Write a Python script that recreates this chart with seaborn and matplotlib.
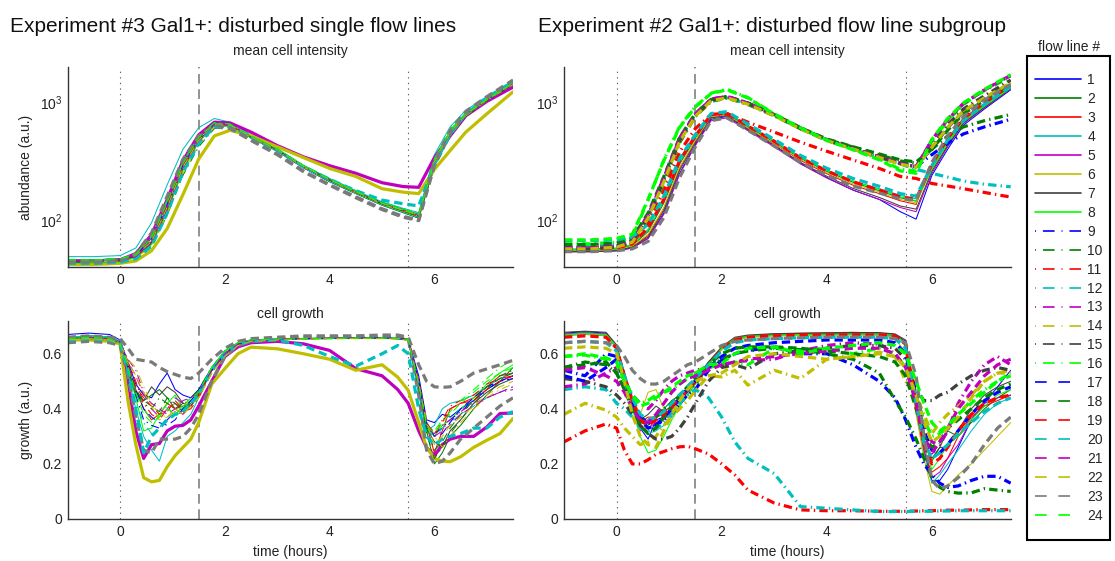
import matplotlib
matplotlib.use("Agg")
import matplotlib.pyplot as plt
from matplotlib.lines import Line2D
from matplotlib.patches import Rectangle
from matplotlib.ticker import NullLocator
import seaborn as sns

# ---------------- time grids (hours) ----------------
T_ABUND = [-1, -0.5, 0, 0.3, 0.6, 0.9, 1.2, 1.5, 1.8, 2.1, 2.5, 3, 3.5, 4, 4.5, 5, 5.4, 5.7, 6.0, 6.3, 6.6, 7.0, 7.5]
T_GROWTH = [-1, -0.6, -0.2, 0, 0.15, 0.3, 0.45, 0.6, 0.75, 0.9, 1.05, 1.2, 1.35, 1.5, 1.75, 2.0, 2.25, 2.5,
            3.0, 3.5, 4.0, 4.5, 5.0, 5.3, 5.5, 5.7, 5.85, 6.0, 6.15, 6.3, 6.5, 6.75, 7.0, 7.25, 7.5]

FLOW_LINES = [str(i) for i in range(1, 25)]

# ---------------- Experiment #3: mean cell intensity ----------------
e3_abund_01 = [44,44,45,49,64,120,270,470,640,630,500,385,278,212,168,134,116,104,290,530,770,1040,1420]
e3_abund_02 = [46,46,47,51,70,140,300,500,660,650,515,400,290,224,176,141,124,112,320,570,800,1060,1460]
e3_abund_03 = [45,45,46,50,66,128,280,475,650,645,512,396,286,220,173,138,120,108,305,555,790,1050,1440]
e3_abund_04 = [49,49,50,58,95,200,400,610,730,680,530,405,292,226,178,143,126,116,360,620,860,1120,1520]
e3_abund_05 = [45,45,46,52,75,150,320,530,680,670,560,430,345,290,250,208,193,190,340,520,770,1020,1350]
e3_abund_06 = [42,42,43,45,55,85,165,330,520,580,520,420,340,275,235,185,173,168,270,390,560,800,1230]
e3_abund_07 = [44,44,45,49,63,122,272,468,640,632,505,390,282,216,170,136,118,106,300,540,780,1045,1430]
e3_abund_08 = [43,43,44,48,62,118,265,462,632,628,500,388,280,214,169,135,117,105,295,535,775,1048,1440]
e3_abund_09 = [46,46,47,51,68,135,290,488,655,645,512,398,288,222,175,140,123,111,315,560,795,1058,1455]
e3_abund_10 = [45,45,46,49,60,110,240,420,600,625,505,392,284,218,172,137,120,109,280,510,760,1030,1410]
e3_abund_11 = [44,44,45,50,65,125,278,472,645,640,508,394,285,219,172,138,120,108,308,552,790,1052,1445]
e3_abund_12 = [45,45,46,52,72,145,310,510,670,655,518,402,292,225,178,142,126,114,330,580,810,1070,1470]
e3_abund_13 = [44,44,45,50,66,130,284,478,648,640,510,395,286,220,173,138,121,109,310,555,792,1054,1448]
e3_abund_14 = [44,44,45,48,60,112,250,440,615,630,506,393,284,218,172,137,120,108,285,520,770,1040,1420]
e3_abund_15 = [43,43,44,48,62,120,265,460,620,600,475,360,258,198,155,123,106,99,290,540,800,1100,1520]
e3_abund_16 = [46,46,47,52,74,150,315,515,675,655,520,402,291,224,177,141,125,113,335,585,815,1075,1480]
e3_abund_17 = [45,45,46,50,67,132,286,482,652,642,510,396,286,220,174,139,121,110,312,558,795,1055,1450]
e3_abund_18 = [44,44,45,49,64,124,276,470,644,638,508,394,285,219,173,138,120,108,304,550,788,1050,1440]
e3_abund_19 = [45,45,46,51,69,138,295,492,658,648,514,399,289,222,175,140,122,111,318,565,800,1060,1460]
e3_abund_20 = [43,43,44,47,60,115,255,450,620,630,505,392,285,222,178,148,138,132,300,540,800,1100,1500]
e3_abund_21 = [44,44,45,49,65,126,280,475,646,640,509,395,286,220,173,138,121,109,309,553,790,1052,1446]
e3_abund_22 = [45,45,46,50,66,129,282,478,648,641,510,396,287,221,174,139,121,110,311,556,793,1054,1449]
e3_abund_23 = [44,44,45,52,78,160,330,520,640,610,480,365,262,200,158,125,108,100,320,580,840,1120,1550]
e3_abund_24 = [46,46,47,51,70,142,302,502,662,650,516,400,290,223,176,140,123,112,325,575,805,1064,1462]

# ---------------- Experiment #3: cell growth ----------------
e3_growth_01 = [0.67,0.675,0.67,0.65,0.57,0.49,0.45,0.44,0.49,0.53,0.47,0.45,0.44,0.47,0.55,0.61,0.64,0.65,0.653,0.655,0.656,0.657,0.657,0.655,0.652,0.52,0.36,0.35,0.38,0.37,0.40,0.43,0.47,0.50,0.52]
e3_growth_02 = [0.655,0.66,0.655,0.64,0.53,0.45,0.43,0.45,0.47,0.44,0.40,0.41,0.42,0.46,0.54,0.60,0.635,0.648,0.652,0.654,0.655,0.656,0.656,0.655,0.65,0.48,0.32,0.20,0.24,0.30,0.34,0.40,0.45,0.50,0.55]
e3_growth_03 = [0.65,0.655,0.655,0.64,0.56,0.47,0.40,0.36,0.38,0.42,0.40,0.38,0.41,0.45,0.54,0.60,0.635,0.648,0.652,0.655,0.656,0.657,0.657,0.656,0.652,0.50,0.34,0.24,0.32,0.40,0.42,0.44,0.48,0.52,0.53]
e3_growth_04 = [0.66,0.665,0.66,0.645,0.52,0.40,0.30,0.25,0.21,0.30,0.32,0.35,0.38,0.44,0.54,0.60,0.635,0.648,0.652,0.655,0.656,0.656,0.656,0.655,0.65,0.45,0.32,0.34,0.40,0.42,0.43,0.45,0.48,0.51,0.53]
e3_growth_05 = [0.655,0.655,0.65,0.64,0.50,0.32,0.22,0.27,0.274,0.32,0.337,0.34,0.36,0.41,0.50,0.59,0.625,0.64,0.645,0.636,0.612,0.546,0.52,0.47,0.42,0.32,0.26,0.23,0.27,0.29,0.30,0.30,0.334,0.383,0.385]
e3_growth_06 = [0.65,0.65,0.645,0.636,0.43,0.27,0.15,0.135,0.14,0.19,0.23,0.26,0.29,0.35,0.49,0.546,0.60,0.624,0.618,0.60,0.58,0.54,0.56,0.515,0.467,0.35,0.26,0.22,0.21,0.208,0.226,0.26,0.286,0.31,0.365]
e3_growth_07 = [0.655,0.66,0.655,0.64,0.55,0.46,0.43,0.48,0.45,0.48,0.46,0.42,0.41,0.45,0.54,0.60,0.635,0.648,0.652,0.655,0.656,0.657,0.657,0.656,0.652,0.50,0.33,0.28,0.26,0.32,0.36,0.42,0.46,0.49,0.51]
e3_growth_08 = [0.655,0.66,0.655,0.64,0.54,0.44,0.32,0.33,0.38,0.42,0.45,0.40,0.43,0.46,0.55,0.61,0.64,0.65,0.654,0.656,0.657,0.658,0.658,0.657,0.653,0.49,0.33,0.30,0.34,0.36,0.40,0.44,0.49,0.53,0.56]
e3_growth_09 = [0.66,0.665,0.66,0.645,0.55,0.45,0.36,0.34,0.33,0.36,0.39,0.40,0.43,0.46,0.54,0.60,0.635,0.648,0.652,0.655,0.656,0.656,0.656,0.655,0.65,0.48,0.33,0.31,0.33,0.36,0.39,0.43,0.47,0.50,0.51]
e3_growth_10 = [0.65,0.655,0.65,0.635,0.54,0.45,0.42,0.40,0.44,0.42,0.40,0.42,0.44,0.47,0.55,0.61,0.64,0.65,0.653,0.655,0.656,0.657,0.657,0.656,0.652,0.47,0.31,0.22,0.26,0.31,0.36,0.42,0.47,0.52,0.54]
e3_growth_11 = [0.655,0.66,0.655,0.64,0.57,0.50,0.42,0.38,0.36,0.40,0.42,0.39,0.40,0.44,0.53,0.60,0.635,0.648,0.652,0.655,0.656,0.656,0.656,0.655,0.651,0.49,0.34,0.30,0.36,0.41,0.43,0.45,0.49,0.51,0.52]
e3_growth_12 = [0.66,0.665,0.66,0.645,0.53,0.42,0.35,0.31,0.33,0.37,0.38,0.39,0.42,0.45,0.54,0.60,0.635,0.648,0.652,0.654,0.655,0.656,0.656,0.655,0.65,0.46,0.32,0.30,0.33,0.35,0.38,0.41,0.44,0.46,0.48]
e3_growth_13 = [0.655,0.66,0.655,0.64,0.58,0.54,0.46,0.40,0.37,0.40,0.44,0.42,0.43,0.46,0.54,0.60,0.635,0.648,0.652,0.655,0.656,0.656,0.656,0.655,0.65,0.49,0.34,0.31,0.34,0.36,0.39,0.42,0.44,0.46,0.47]
e3_growth_14 = [0.65,0.655,0.65,0.635,0.58,0.55,0.48,0.42,0.38,0.37,0.39,0.41,0.43,0.45,0.53,0.59,0.63,0.645,0.65,0.653,0.655,0.655,0.655,0.654,0.648,0.50,0.36,0.30,0.26,0.30,0.35,0.40,0.44,0.47,0.49]
e3_growth_15 = [0.64,0.645,0.64,0.63,0.52,0.37,0.25,0.24,0.29,0.29,0.29,0.30,0.33,0.38,0.50,0.59,0.63,0.645,0.655,0.66,0.66,0.66,0.66,0.66,0.655,0.45,0.25,0.20,0.21,0.24,0.29,0.33,0.37,0.41,0.44]
e3_growth_16 = [0.66,0.665,0.66,0.645,0.56,0.46,0.40,0.36,0.38,0.41,0.37,0.40,0.43,0.46,0.55,0.61,0.64,0.65,0.653,0.655,0.656,0.657,0.657,0.656,0.652,0.48,0.34,0.32,0.36,0.39,0.43,0.47,0.51,0.55,0.58]
e3_growth_17 = [0.66,0.665,0.66,0.645,0.56,0.47,0.40,0.37,0.35,0.34,0.36,0.40,0.43,0.46,0.54,0.60,0.635,0.648,0.652,0.655,0.656,0.657,0.657,0.656,0.652,0.50,0.35,0.30,0.31,0.35,0.40,0.44,0.48,0.50,0.52]
e3_growth_18 = [0.655,0.66,0.655,0.64,0.55,0.47,0.43,0.41,0.39,0.44,0.42,0.40,0.42,0.45,0.54,0.60,0.635,0.648,0.652,0.654,0.655,0.656,0.656,0.655,0.651,0.48,0.33,0.25,0.28,0.33,0.38,0.43,0.48,0.51,0.53]
e3_growth_19 = [0.655,0.66,0.655,0.64,0.56,0.48,0.44,0.41,0.38,0.39,0.43,0.40,0.41,0.45,0.54,0.60,0.635,0.648,0.652,0.655,0.656,0.656,0.656,0.655,0.651,0.50,0.35,0.31,0.35,0.40,0.42,0.43,0.47,0.50,0.52]
e3_growth_20 = [0.65,0.655,0.65,0.64,0.54,0.40,0.24,0.30,0.33,0.36,0.38,0.39,0.42,0.45,0.54,0.60,0.635,0.645,0.65,0.63,0.59,0.555,0.60,0.63,0.60,0.40,0.30,0.27,0.29,0.30,0.31,0.33,0.33,0.37,0.39]
e3_growth_21 = [0.655,0.66,0.655,0.64,0.57,0.52,0.45,0.42,0.40,0.38,0.40,0.43,0.44,0.46,0.54,0.60,0.635,0.648,0.652,0.655,0.656,0.656,0.656,0.655,0.65,0.48,0.34,0.30,0.32,0.34,0.38,0.41,0.44,0.46,0.48]
e3_growth_22 = [0.65,0.655,0.65,0.635,0.57,0.52,0.46,0.41,0.36,0.37,0.40,0.38,0.41,0.44,0.53,0.59,0.63,0.645,0.65,0.653,0.655,0.655,0.655,0.654,0.648,0.49,0.35,0.27,0.30,0.34,0.37,0.41,0.45,0.48,0.50]
e3_growth_23 = [0.66,0.665,0.66,0.655,0.62,0.58,0.575,0.57,0.55,0.535,0.525,0.515,0.51,0.53,0.58,0.62,0.645,0.655,0.66,0.665,0.665,0.665,0.668,0.668,0.66,0.56,0.50,0.48,0.478,0.48,0.50,0.53,0.545,0.56,0.576]
e3_growth_24 = [0.655,0.66,0.655,0.64,0.55,0.46,0.38,0.35,0.37,0.40,0.38,0.41,0.44,0.46,0.55,0.61,0.64,0.65,0.653,0.655,0.656,0.657,0.657,0.656,0.652,0.49,0.34,0.31,0.35,0.38,0.42,0.46,0.50,0.53,0.55]

# ---------------- Experiment #2: mean cell intensity ----------------
e2_abund_01 = [54,54,55,58,70,115,250,440,720,760,590,430,305,230,180,150,118,102,240,400,640,880,1280]
e2_abund_02 = [56,56,57,61,80,140,300,500,780,800,620,460,335,260,210,178,155,145,290,470,720,960,1360]
e2_abund_03 = [55,55,56,59,74,125,275,470,750,775,600,447,322,248,198,168,146,136,300,490,740,980,1380]
e2_abund_04 = [57,57,58,62,82,145,310,510,790,810,630,470,340,265,215,185,162,152,280,450,690,940,1320]
e2_abund_05 = [54,54,55,58,70,112,245,430,700,740,575,420,300,228,180,150,128,118,250,420,660,900,1300]
e2_abund_06 = [55,55,56,60,76,128,282,475,755,778,604,452,328,254,204,173,150,140,270,440,680,925,1320]
e2_abund_07 = [54,54,55,59,72,120,265,455,740,770,590,432,310,236,186,156,132,124,260,430,670,910,1310]
e2_abund_08 = [56,56,57,62,84,150,320,520,800,820,640,474,344,266,214,182,158,146,275,455,700,930,1330]
e2_abund_09 = [58,58,60,66,107,220,480,785,1050,1120,985,785,605,480,408,346,304,285,360,450,540,620,720]
e2_abund_10 = [57,57,59,64,100,205,455,760,1020,1090,960,770,600,485,418,358,318,306,400,520,620,700,790]
e2_abund_11 = [58,58,59,64,95,175,380,600,790,800,680,560,460,385,325,275,235,226,205,195,185,172,157]
e2_abund_12 = [60,60,62,68,110,225,490,790,1040,1100,970,775,598,475,400,340,300,270,250,232,215,202,192]
e2_abund_13 = [58,58,60,66,112,230,500,800,1070,1130,990,790,608,482,408,346,304,285,480,720,980,1280,1700]
e2_abund_14 = [57,57,59,65,105,215,470,770,1040,1100,970,775,598,475,403,342,300,282,420,620,850,1100,1480]
e2_abund_15 = [57,57,59,65,106,218,475,775,1045,1110,975,780,600,478,405,344,302,284,440,650,880,1140,1550]
e2_abund_16 = [63,63,65,72,148,325,625,925,1200,1290,1100,800,610,480,400,330,270,262,470,700,960,1260,1650]
e2_abund_17 = [58,58,60,66,108,222,482,788,1055,1115,980,782,602,478,406,345,303,284,410,610,840,1090,1450]
e2_abund_18 = [62,62,64,70,115,235,505,805,1060,1120,985,790,610,490,420,365,325,312,400,580,800,1040,1400]
e2_abund_19 = [57,57,58,63,86,150,320,520,790,810,630,468,338,262,212,180,158,150,300,500,730,1000,1400]
e2_abund_20 = [67,67,68,72,92,160,335,535,805,835,655,485,355,276,226,194,168,160,290,480,700,960,1360]
e2_abund_21 = [58,58,60,66,110,226,492,795,1065,1125,988,788,606,480,406,345,303,284,475,715,975,1275,1690]
e2_abund_22 = [57,57,59,65,104,212,465,765,1035,1095,965,772,596,474,402,341,299,281,415,615,845,1095,1470]
e2_abund_23 = [54,54,55,57,66,105,230,420,700,740,580,425,310,240,195,170,152,148,310,520,760,1050,1420]
e2_abund_24 = [68,68,70,76,150,320,615,915,1190,1280,1090,795,608,478,396,325,262,250,485,730,990,1290,1720]

# ---------------- Experiment #2: cell growth ----------------
e2_growth_01 = [0.675,0.68,0.675,0.63,0.52,0.42,0.33,0.29,0.36,0.37,0.40,0.43,0.46,0.50,0.57,0.62,0.655,0.665,0.67,0.672,0.673,0.674,0.674,0.67,0.645,0.42,0.25,0.14,0.14,0.18,0.26,0.36,0.42,0.48,0.54]
e2_growth_02 = [0.67,0.675,0.67,0.63,0.53,0.43,0.35,0.34,0.38,0.40,0.43,0.45,0.47,0.50,0.57,0.62,0.655,0.665,0.67,0.671,0.672,0.673,0.673,0.669,0.64,0.43,0.28,0.21,0.26,0.32,0.30,0.35,0.40,0.44,0.47]
e2_growth_03 = [0.67,0.672,0.67,0.625,0.52,0.42,0.35,0.37,0.37,0.38,0.40,0.44,0.46,0.50,0.56,0.62,0.655,0.665,0.672,0.674,0.676,0.678,0.675,0.67,0.64,0.40,0.24,0.17,0.19,0.22,0.30,0.37,0.41,0.43,0.45]
e2_growth_04 = [0.665,0.67,0.665,0.62,0.50,0.40,0.33,0.31,0.32,0.34,0.37,0.41,0.45,0.49,0.56,0.615,0.65,0.66,0.665,0.667,0.668,0.669,0.668,0.664,0.63,0.40,0.24,0.13,0.16,0.20,0.25,0.32,0.38,0.42,0.44]
e2_growth_05 = [0.672,0.676,0.672,0.628,0.51,0.41,0.32,0.33,0.35,0.36,0.39,0.43,0.46,0.50,0.56,0.62,0.655,0.664,0.668,0.67,0.67,0.671,0.671,0.667,0.64,0.41,0.25,0.15,0.17,0.22,0.27,0.36,0.42,0.44,0.45]
e2_growth_06 = [0.668,0.672,0.668,0.625,0.53,0.44,0.38,0.46,0.47,0.40,0.38,0.42,0.45,0.49,0.56,0.615,0.65,0.66,0.665,0.667,0.668,0.669,0.668,0.66,0.60,0.38,0.22,0.10,0.09,0.12,0.16,0.20,0.25,0.30,0.35]
e2_growth_07 = [0.678,0.682,0.678,0.632,0.53,0.43,0.36,0.38,0.41,0.39,0.41,0.44,0.47,0.51,0.57,0.625,0.66,0.668,0.673,0.675,0.676,0.677,0.677,0.672,0.65,0.44,0.28,0.22,0.26,0.26,0.32,0.40,0.45,0.48,0.50]
e2_growth_08 = [0.67,0.674,0.67,0.627,0.51,0.40,0.30,0.24,0.25,0.30,0.36,0.41,0.45,0.49,0.56,0.62,0.655,0.664,0.668,0.67,0.671,0.672,0.672,0.667,0.64,0.41,0.26,0.18,0.22,0.27,0.30,0.36,0.41,0.45,0.47]
e2_growth_09 = [0.54,0.52,0.60,0.59,0.50,0.44,0.37,0.35,0.34,0.36,0.38,0.42,0.45,0.47,0.54,0.576,0.60,0.612,0.624,0.60,0.60,0.56,0.50,0.44,0.36,0.26,0.20,0.16,0.13,0.115,0.12,0.14,0.155,0.155,0.13]
e2_growth_10 = [0.55,0.57,0.56,0.53,0.47,0.42,0.36,0.35,0.37,0.40,0.42,0.45,0.47,0.49,0.55,0.58,0.60,0.61,0.62,0.615,0.60,0.58,0.53,0.43,0.37,0.29,0.22,0.15,0.115,0.10,0.094,0.095,0.11,0.105,0.10]
e2_growth_11 = [0.28,0.32,0.345,0.33,0.25,0.20,0.20,0.215,0.235,0.245,0.255,0.262,0.264,0.255,0.236,0.20,0.16,0.105,0.058,0.033,0.030,0.030,0.028,0.028,0.028,0.029,0.030,0.030,0.031,0.032,0.032,0.033,0.034,0.034,0.034]
e2_growth_12 = [0.47,0.48,0.47,0.42,0.40,0.37,0.33,0.32,0.33,0.35,0.38,0.42,0.45,0.47,0.44,0.37,0.28,0.22,0.165,0.045,0.039,0.033,0.027,0.027,0.027,0.028,0.028,0.028,0.029,0.029,0.03,0.03,0.03,0.03,0.03]
e2_growth_13 = [0.48,0.49,0.53,0.55,0.50,0.45,0.42,0.40,0.43,0.47,0.50,0.52,0.53,0.54,0.55,0.56,0.57,0.575,0.58,0.61,0.63,0.64,0.635,0.60,0.55,0.44,0.34,0.28,0.27,0.32,0.42,0.50,0.56,0.59,0.56]
e2_growth_14 = [0.38,0.42,0.395,0.37,0.33,0.30,0.27,0.28,0.30,0.34,0.37,0.40,0.43,0.467,0.52,0.516,0.54,0.486,0.54,0.51,0.58,0.59,0.606,0.59,0.50,0.45,0.38,0.31,0.35,0.38,0.41,0.45,0.50,0.53,0.54]
e2_growth_15 = [0.51,0.50,0.48,0.45,0.42,0.38,0.34,0.31,0.29,0.29,0.30,0.33,0.37,0.42,0.50,0.55,0.56,0.545,0.60,0.61,0.62,0.63,0.63,0.62,0.58,0.47,0.43,0.43,0.45,0.46,0.49,0.52,0.54,0.55,0.54]
e2_growth_16 = [0.59,0.595,0.58,0.56,0.50,0.45,0.42,0.43,0.45,0.46,0.47,0.49,0.51,0.53,0.55,0.56,0.57,0.56,0.62,0.61,0.62,0.60,0.62,0.60,0.55,0.44,0.36,0.30,0.31,0.33,0.38,0.43,0.47,0.50,0.52]
e2_growth_17 = [0.52,0.50,0.55,0.58,0.50,0.42,0.36,0.33,0.34,0.37,0.40,0.44,0.47,0.50,0.55,0.59,0.62,0.63,0.64,0.645,0.65,0.65,0.65,0.64,0.60,0.45,0.32,0.25,0.24,0.27,0.32,0.38,0.43,0.46,0.48]
e2_growth_18 = [0.55,0.56,0.57,0.53,0.47,0.40,0.34,0.31,0.33,0.37,0.41,0.45,0.48,0.51,0.56,0.60,0.62,0.625,0.625,0.62,0.61,0.60,0.59,0.57,0.52,0.40,0.30,0.26,0.28,0.33,0.36,0.40,0.44,0.47,0.49]
e2_growth_19 = [0.66,0.665,0.66,0.62,0.52,0.43,0.36,0.34,0.36,0.38,0.41,0.44,0.47,0.50,0.56,0.615,0.65,0.66,0.665,0.667,0.668,0.669,0.668,0.664,0.635,0.42,0.27,0.20,0.22,0.26,0.32,0.38,0.42,0.44,0.45]
e2_growth_20 = [0.64,0.645,0.64,0.61,0.52,0.44,0.38,0.36,0.37,0.39,0.42,0.45,0.48,0.51,0.56,0.61,0.64,0.65,0.655,0.658,0.66,0.66,0.66,0.655,0.62,0.42,0.28,0.22,0.24,0.27,0.31,0.35,0.39,0.42,0.44]
e2_growth_21 = [0.54,0.55,0.52,0.50,0.46,0.40,0.36,0.35,0.38,0.42,0.46,0.49,0.51,0.52,0.54,0.56,0.57,0.58,0.59,0.60,0.61,0.62,0.62,0.60,0.55,0.42,0.30,0.24,0.28,0.33,0.40,0.46,0.52,0.56,0.58]
e2_growth_22 = [0.62,0.625,0.62,0.60,0.50,0.38,0.30,0.27,0.26,0.32,0.38,0.43,0.47,0.50,0.52,0.53,0.56,0.59,0.60,0.59,0.58,0.59,0.60,0.59,0.55,0.45,0.35,0.28,0.30,0.33,0.37,0.44,0.50,0.53,0.53]
e2_growth_23 = [0.64,0.645,0.64,0.63,0.59,0.54,0.51,0.49,0.49,0.50,0.52,0.54,0.56,0.57,0.60,0.63,0.645,0.65,0.655,0.658,0.66,0.66,0.66,0.655,0.64,0.52,0.30,0.14,0.11,0.12,0.15,0.20,0.27,0.33,0.37]
e2_growth_24 = [0.59,0.60,0.585,0.57,0.50,0.45,0.41,0.42,0.44,0.46,0.48,0.50,0.52,0.53,0.56,0.565,0.60,0.62,0.625,0.60,0.62,0.63,0.64,0.63,0.60,0.50,0.42,0.35,0.32,0.34,0.38,0.42,0.46,0.50,0.53]

E3_ABUND = [e3_abund_01, e3_abund_02, e3_abund_03, e3_abund_04, e3_abund_05, e3_abund_06, e3_abund_07, e3_abund_08,
            e3_abund_09, e3_abund_10, e3_abund_11, e3_abund_12, e3_abund_13, e3_abund_14, e3_abund_15, e3_abund_16,
            e3_abund_17, e3_abund_18, e3_abund_19, e3_abund_20, e3_abund_21, e3_abund_22, e3_abund_23, e3_abund_24]
E3_GROWTH = [e3_growth_01, e3_growth_02, e3_growth_03, e3_growth_04, e3_growth_05, e3_growth_06, e3_growth_07, e3_growth_08,
             e3_growth_09, e3_growth_10, e3_growth_11, e3_growth_12, e3_growth_13, e3_growth_14, e3_growth_15, e3_growth_16,
             e3_growth_17, e3_growth_18, e3_growth_19, e3_growth_20, e3_growth_21, e3_growth_22, e3_growth_23, e3_growth_24]
E2_ABUND = [e2_abund_01, e2_abund_02, e2_abund_03, e2_abund_04, e2_abund_05, e2_abund_06, e2_abund_07, e2_abund_08,
            e2_abund_09, e2_abund_10, e2_abund_11, e2_abund_12, e2_abund_13, e2_abund_14, e2_abund_15, e2_abund_16,
            e2_abund_17, e2_abund_18, e2_abund_19, e2_abund_20, e2_abund_21, e2_abund_22, e2_abund_23, e2_abund_24]
E2_GROWTH = [e2_growth_01, e2_growth_02, e2_growth_03, e2_growth_04, e2_growth_05, e2_growth_06, e2_growth_07, e2_growth_08,
             e2_growth_09, e2_growth_10, e2_growth_11, e2_growth_12, e2_growth_13, e2_growth_14, e2_growth_15, e2_growth_16,
             e2_growth_17, e2_growth_18, e2_growth_19, e2_growth_20, e2_growth_21, e2_growth_22, e2_growth_23, e2_growth_24]

# ---------------- styles ----------------
BASE_COLORS = ['#0000ff', '#008000', '#ff0000', '#00bfbf', '#bf00bf', '#bfbf00', '#404040', '#00ff00']
LINE_COLORS = BASE_COLORS + BASE_COLORS + BASE_COLORS
LINE_COLORS[22] = '#7a7a7a'
DASH_PLOT = (0, (6, 3.5))
DASHDOT_PLOT = (0, (6, 3, 1, 3))
PLOT_STYLES = ['-'] * 8 + [DASHDOT_PLOT] * 8 + [DASH_PLOT] * 8
LEG_STYLES = ['-'] * 8 + [(13.4, (8.4, 5, 0.7, 5))] * 8 + [(0, (8.4, 8.4))] * 8
THICK_E3 = {5, 6, 15, 20, 23}
THICK_E2 = set(range(9, 25))
OVERRIDE_E3 = {15: ('#7a7a7a', DASH_PLOT)}

sns.set_theme(style="white")
plt.rcParams["font.family"] = ["Liberation Sans", "DejaVu Sans"]
plt.rcParams["mathtext.fontset"] = "custom"
plt.rcParams["mathtext.rm"] = "Liberation Sans"
plt.rcParams["mathtext.it"] = "Liberation Sans:italic"
plt.rcParams["mathtext.bf"] = "Liberation Sans:bold"
plt.rcParams["lines.scale_dashes"] = False

W, H = 1115, 561
fig = plt.figure(figsize=(W / 100, H / 100), dpi=100)


def box(l, t, r, b):
    return [l / W, 1 - b / H, (r - l) / W, (b - t) / H]


ax_e3a = fig.add_axes(box(67.7, 67, 513, 267))
ax_e3g = fig.add_axes(box(67.7, 320.7, 513, 519))
ax_e2a = fig.add_axes(box(564, 67, 1010.7, 267))
ax_e2g = fig.add_axes(box(564, 320.7, 1010.7, 519))


def draw(ax, t, series, thick, override=None):
    for i, y in enumerate(series):
        n = i + 1
        color, ls = LINE_COLORS[i], PLOT_STYLES[i]
        if override and n in override:
            color, ls = override[n]
        lw = 2.3 if n in thick else 0.75
        sns.lineplot(x=t, y=y, ax=ax, color=color, linestyle=ls, linewidth=lw,
                     estimator=None, sort=False, legend=False)


for ax in (ax_e3a, ax_e2a):
    ax.set_yscale('log')

draw(ax_e3a, T_ABUND, E3_ABUND, THICK_E3, OVERRIDE_E3)
draw(ax_e3g, T_GROWTH, E3_GROWTH, THICK_E3, OVERRIDE_E3)
draw(ax_e2a, T_ABUND, E2_ABUND, THICK_E2)
draw(ax_e2g, T_GROWTH, E2_GROWTH, THICK_E2)

for ax in (ax_e3a, ax_e3g, ax_e2a, ax_e2g):
    ax.axvline(0, color='#666666', lw=0.8, ls=(0, (1, 3)), zorder=0)
    ax.axvline(5.5, color='#666666', lw=0.8, ls=(0, (1, 3)), zorder=0)
    ax.axvline(1.5, color='#808080', lw=1.2, ls=(0, (7, 4)), zorder=0)
    ax.set_xlim(-1, 7.5)
    ax.set_xticks([0, 2, 4, 6])
    ax.set_xlabel('')
    ax.set_ylabel('')
    sns.despine(ax=ax)
    for s in ('left', 'bottom'):
        ax.spines[s].set_color('#333333')
        ax.spines[s].set_linewidth(1.0)
    ax.tick_params(direction='in', length=4, width=0.8, labelsize=10, colors='#222222', pad=4)
    ax.tick_params(which='minor', length=0)

for ax in (ax_e3a, ax_e2a):
    ax.set_ylim(40, 2000)
    ax.set_yticks([100, 1000])
    ax.yaxis.set_minor_locator(NullLocator())
    ax.set_title('mean cell intensity', fontsize=10, pad=9, color='#222222')

for ax in (ax_e3g, ax_e2g):
    ax.set_ylim(0, 0.72)
    ax.set_yticks([0, 0.2, 0.4, 0.6])
    ax.set_yticklabels(['0', '0.2', '0.4', '0.6'])
    ax.set_title('cell growth', fontsize=10, pad=2, color='#222222')
    ax.set_xlabel('time (hours)', fontsize=10, color='#222222')
    ax.xaxis.set_label_coords(0.5, -0.131)

ax_e3a.set_ylabel('abundance (a.u.)', fontsize=10, color='#222222')
ax_e3a.yaxis.set_label_coords(-0.078, 0.5)
ax_e3g.set_ylabel('growth (a.u.)', fontsize=10, color='#222222')
ax_e3g.yaxis.set_label_coords(-0.078, 0.5)

fig.text(10 / W, 1 - 32 / H, 'Experiment #3 Gal1+: disturbed single flow lines',
         fontsize=15, ha='left', va='baseline', color='#111111')
fig.text(538 / W, 1 - 32 / H, 'Experiment #2 Gal1+: disturbed flow line subgroup',
         fontsize=15, ha='left', va='baseline', color='#111111')

# legend: entries without frame, plus an explicit frame box
handles = [Line2D([], [], color=LINE_COLORS[i], linestyle=LEG_STYLES[i], linewidth=1.2) for i in range(24)]
leg = fig.legend(handles, FLOW_LINES, loc='upper left', bbox_to_anchor=(1027 / W, 1 - 65 / H),
                 frameon=False, fontsize=10, handlelength=3.3, handletextpad=0.45,
                 labelspacing=0.355, borderpad=0.6, borderaxespad=0)
fig.patches.append(Rectangle((1027 / W, 1 - 540 / H), 83 / W, 484 / H, transform=fig.transFigure,
                             fill=False, edgecolor='black', linewidth=1.5))
fig.text(1069 / W, 1 - 47 / H, 'flow line #', fontsize=10, ha='center', va='center', color='#222222')

fig.savefig('out.png', dpi=100)
